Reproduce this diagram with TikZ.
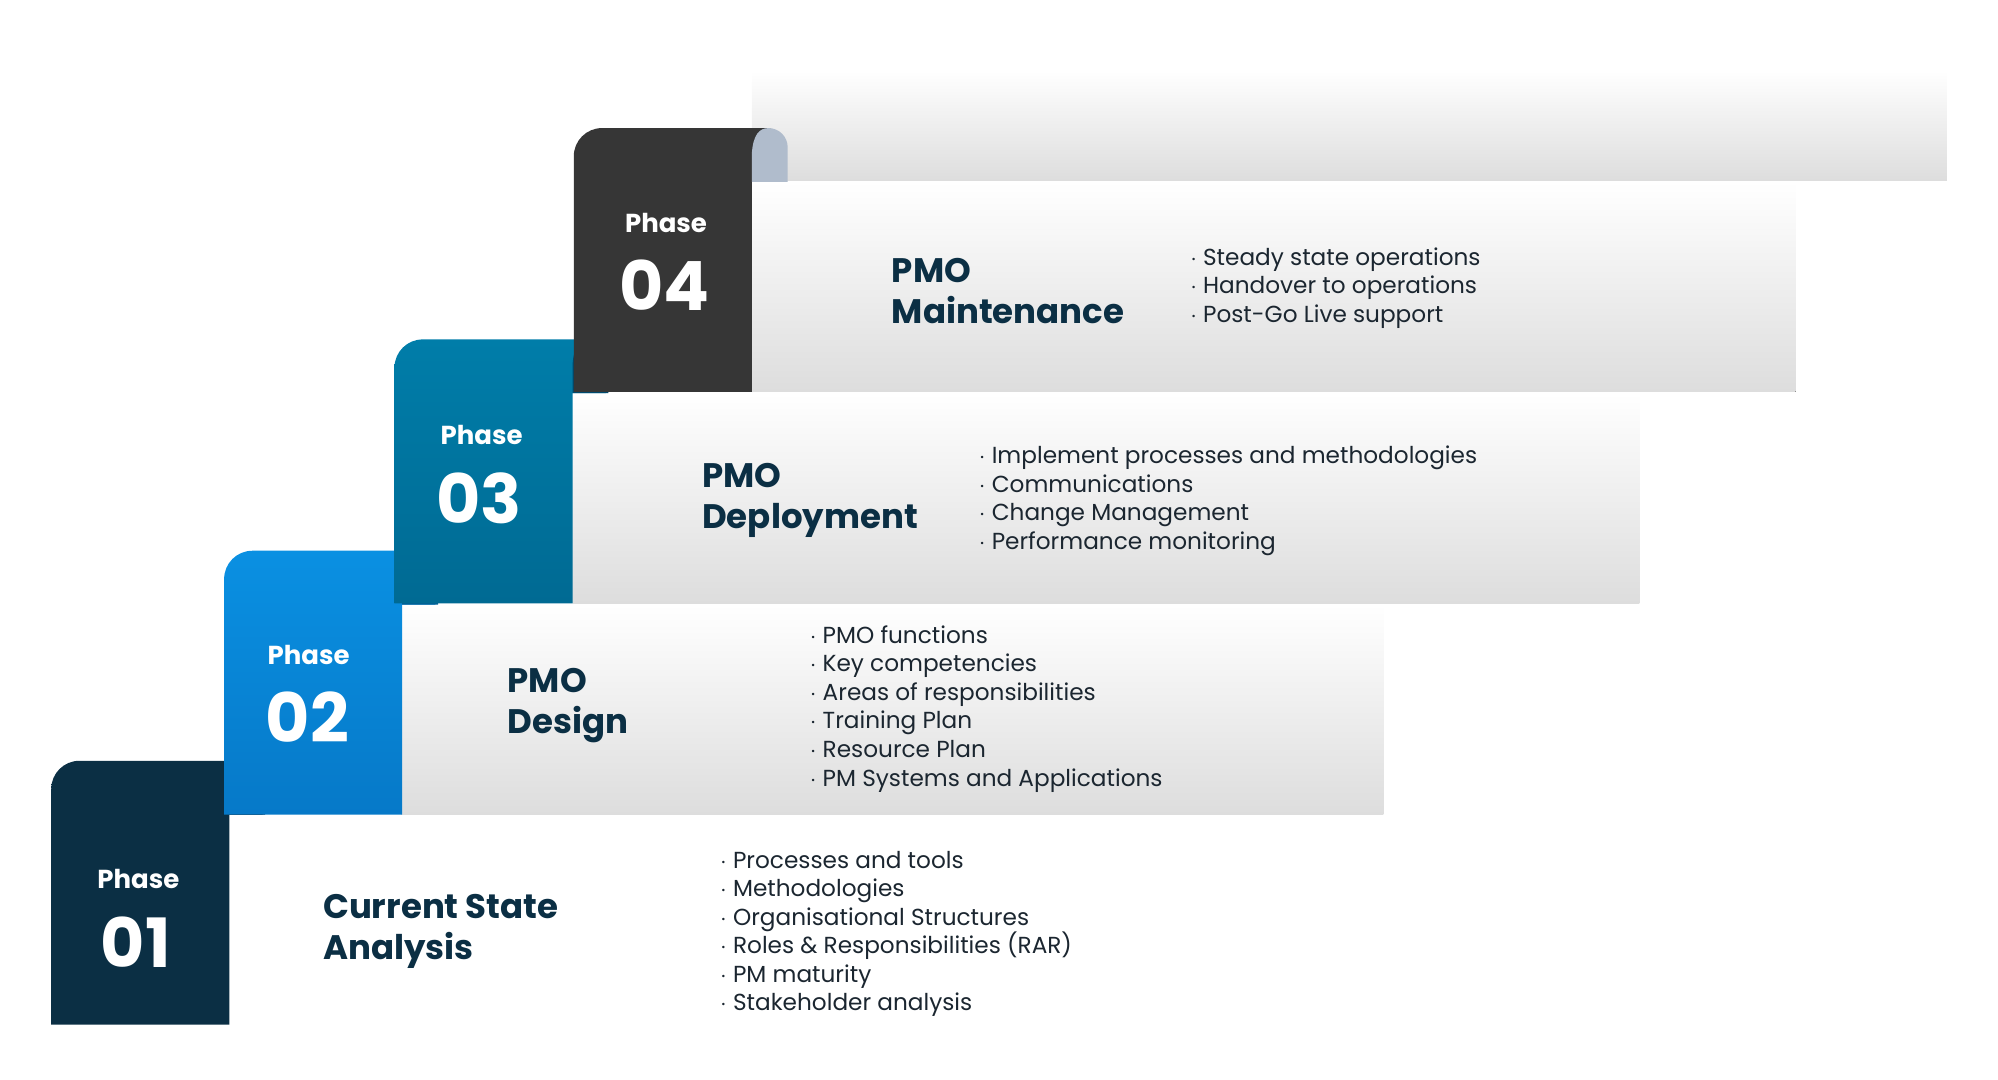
\documentclass[tikz,border=0pt]{standalone}
\usepackage{fontspec}
\setmainfont{Poppins}
\usetikzlibrary{positioning}
\definecolor{navy}{HTML}{0B2F44}
\definecolor{navycurl}{HTML}{03171F}
\definecolor{bluea}{HTML}{0A90E2}
\definecolor{blueb}{HTML}{0679C8}
\definecolor{bluecurl}{HTML}{035F94}
\definecolor{teala}{HTML}{007DA9}
\definecolor{tealb}{HTML}{006A93}
\definecolor{tealcurl}{HTML}{004A6E}
\definecolor{charcoal}{HTML}{363636}
\definecolor{greycurl}{HTML}{B0BCCC}
\definecolor{bandgrey}{HTML}{DDDDDD}
\definecolor{bullettext}{HTML}{1B2630}

\begin{document}
\begin{tikzpicture}[
    x=0.6405pt, y=-0.6405pt,
    band/.style={top color=white, bottom color=bandgrey, draw=none},
    phaselbl/.style={text=white, font=\fontsize{13}{15}\selectfont\bfseries},
    phasenum/.style={text=white, font=\fontsize{34}{36}\selectfont\bfseries},
    heading/.style={anchor=west, align=left, text=navy, inner sep=0pt,
      font=\fontsize{17}{20.5}\selectfont\bfseries},
    bullets/.style={anchor=north west, align=left, text=bullettext, inner sep=0pt,
      font=\fontsize{11.6}{14.3}\selectfont}
  ]
  \useasboundingbox (0,0) rectangle (1560,843);

  % --- grey bands ---
  \fill[band] (587,55) rectangle (1520,141);
  \fill[band] (587,142) rectangle (1402,306);
  \fill[band] (447,307) rectangle (1280,471);
  \fill[band] (313,472) rectangle (1080,636);

  % --- phase tabs: left x, top y, body colours, curl colour ---
  \foreach \lx/\ty/\ca/\cb/\cc in {40/594/navy/navy/navycurl,
      175/430/bluea/blueb/bluecurl, 308/265/teala/tealb/tealcurl,
      448/100/charcoal/charcoal/greycurl}{
    \shade[top color=\ca, bottom color=\cb]
      (\lx,\ty+206) -- (\lx,\ty+22) arc[start angle=180, end angle=270, radius=22]
      -- (\lx+150,\ty) arc[start angle=270, end angle=360, radius=15]
      -- (\lx+165,\ty+42) -- (\lx+139,\ty+42) -- (\lx+139,\ty+206) -- cycle;
    \fill[\cc] (\lx+139,\ty+42) -- (\lx+139,\ty+20)
      .. controls (\lx+140,\ty+5) and (\lx+145,\ty) .. (\lx+152,\ty)
      arc[start angle=270, end angle=360, radius=15]
      -- (\lx+167,\ty+42) -- cycle;
  }

  % --- tab labels ---
  \node[phaselbl] (p1) at (108,686) {Phase};
  \node[phasenum] (n1) at (106,736) {01};
  \node[phaselbl] (p2) at (241,511) {Phase};
  \node[phasenum] (n2) at (240,560) {02};
  \node[phaselbl] (p3) at (376,340) {Phase};
  \node[phasenum] (n3) at (374,389) {03};
  \node[phaselbl] (p4) at (520,174) {Phase};
  \node[phasenum] (n4) at (519,223) {04};

  % --- headings ---
  \node[heading] (h1) at (252,727) {Current State\\Analysis};
  \node[heading] (h2) at (396,551) {PMO\\Design};
  \node[heading] (h3) at (548,391) {PMO\\Deployment};
  \node[heading] (h4) at (696,227) {PMO\\Maintenance};

  % --- bullet lists ---
  \node[bullets] (b1) at (562,664) {$\cdot$ Processes and tools\\$\cdot$ Methodologies
    \\$\cdot$ Organisational Structures\\$\cdot$ Roles \& Responsibilities (RAR)
    \\$\cdot$ PM maturity\\$\cdot$ Stakeholder analysis};
  \node[bullets] (b2) at (632,488) {$\cdot$ PMO functions\\$\cdot$ Key competencies
    \\$\cdot$ Areas of responsibilities\\$\cdot$ Training Plan
    \\$\cdot$ Resource Plan\\$\cdot$ PM Systems and Applications};
  \node[bullets] (b3) at (764,348) {$\cdot$ Implement processes and methodologies
    \\$\cdot$ Communications\\$\cdot$ Change Management\\$\cdot$ Performance monitoring};
  \node[bullets] (b4) at (929,193) {$\cdot$ Steady state operations
    \\$\cdot$ Handover to operations\\$\cdot$ Post-Go Live support};
\end{tikzpicture}
\end{document}
